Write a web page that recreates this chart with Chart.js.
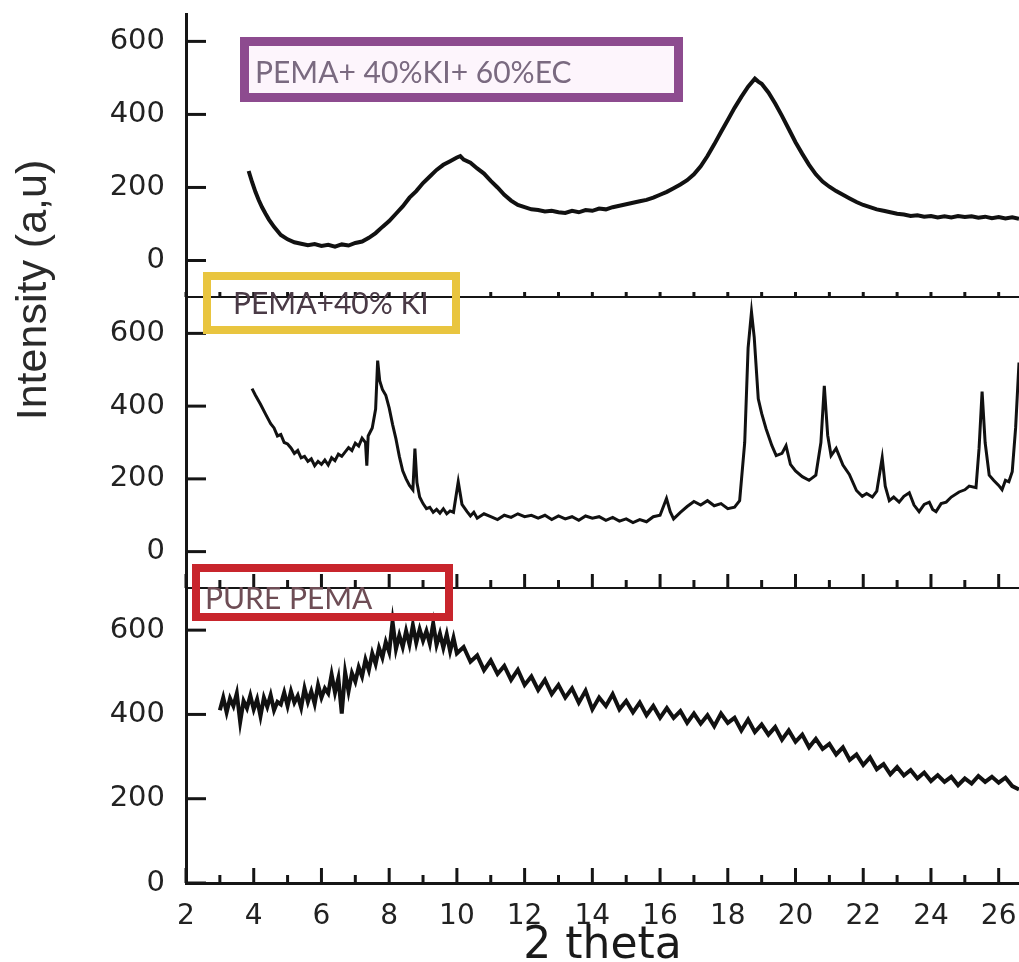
<!DOCTYPE html>
<html>
<head>
<meta charset="utf-8">
<script src="https://cdn.jsdelivr.net/npm/chart.js"></script>
<style>
  body { margin: 0; background: #fff; }
  canvas { display: block; }
</style>
</head>
<body>
<canvas id="xrdChart" width="1019" height="962"></canvas>
<script>
// tick values
const thetaTicks = [2, 3, 4, 5, 6, 7, 8, 9, 10, 11, 12, 13, 14, 15, 16, 17, 18, 19, 20, 21, 22, 23, 24, 25, 26];
const intensityTicks = [0, 100, 200, 300, 400, 500, 600];

// PEMA+ 40%KI+ 60%EC (top panel)
const ecTheta = [3.85, 3.95, 4.05, 4.15, 4.25, 4.35, 4.45, 4.6, 4.8, 5.0, 5.2, 5.4, 5.6, 5.8, 6.0, 6.2, 6.4, 6.6, 6.8, 7.0,
  7.2, 7.4, 7.6, 7.8, 8.0, 8.2, 8.4, 8.6, 8.8, 9.0, 9.2, 9.4, 9.6, 9.8, 10.0, 10.1, 10.2, 10.4, 10.6, 10.8,
  11.0, 11.2, 11.4, 11.6, 11.8, 12.0, 12.2, 12.4, 12.6, 12.8, 13.0, 13.2, 13.4, 13.6, 13.8, 14.0, 14.2, 14.4, 14.6, 14.8,
  15.0, 15.2, 15.4, 15.6, 15.8, 16.0, 16.2, 16.4, 16.6, 16.8, 17.0, 17.2, 17.4, 17.6, 17.8, 18.0, 18.2, 18.4, 18.6, 18.8,
  18.9, 19.0, 19.2, 19.4, 19.6, 19.8, 20.0, 20.2, 20.4, 20.6, 20.8, 21.0, 21.2, 21.4, 21.6, 21.8, 22.0, 22.2, 22.4, 22.6,
  22.8, 23.0, 23.2, 23.4, 23.6, 23.8, 24.0, 24.2, 24.4, 24.6, 24.8, 25.0, 25.2, 25.4, 25.6, 25.8, 26.0, 26.2, 26.4, 26.6];
const ecIntensity = [245, 215, 188, 165, 145, 128, 112, 92, 70, 58, 50, 46, 42, 45, 40, 43, 38, 44, 41, 48,
  52, 62, 75, 92, 108, 128, 148, 172, 190, 212, 230, 248, 262, 272, 282, 286, 276, 268, 252, 238,
  218, 200, 180, 164, 152, 146, 140, 138, 134, 136, 132, 130, 136, 132, 138, 136, 142, 140, 146, 150,
  154, 158, 162, 166, 172, 180, 188, 198, 208, 220, 236, 258, 286, 318, 352, 385, 418, 448, 476, 498,
  490, 484, 460, 430, 396, 360, 324, 292, 262, 236, 216, 202, 190, 180, 170, 160, 152, 146, 140, 136,
  132, 128, 126, 122, 124, 120, 122, 118, 121, 118, 122, 119, 121, 117, 120, 116, 119, 115, 118, 114];

// PEMA+40% KI (middle panel)
const kiTheta = [3.95, 4.05, 4.2, 4.35, 4.5, 4.6, 4.7, 4.8, 4.9, 5.0, 5.1, 5.2, 5.3, 5.4, 5.5, 5.6, 5.7, 5.8, 5.9, 6.0,
  6.1, 6.2, 6.3, 6.4, 6.5, 6.6, 6.8, 6.9, 7.0, 7.1, 7.2, 7.3, 7.34, 7.38, 7.5, 7.6, 7.66, 7.72, 7.8, 7.9,
  8.0, 8.1, 8.2, 8.3, 8.4, 8.5, 8.6, 8.7, 8.76, 8.82, 8.9, 9.0, 9.1, 9.2, 9.3, 9.4, 9.5, 9.6, 9.7, 9.8,
  9.9, 10.04, 10.15, 10.3, 10.4, 10.5, 10.6, 10.8, 11.0, 11.2, 11.4, 11.6, 11.8, 12.0, 12.2, 12.4, 12.6, 12.8, 13.0, 13.2,
  13.4, 13.6, 13.8, 14.0, 14.2, 14.4, 14.6, 14.8, 15.0, 15.2, 15.4, 15.6, 15.8, 16.0, 16.19, 16.3, 16.4, 16.6, 16.8, 17.0,
  17.2, 17.4, 17.6, 17.8, 18.0, 18.2, 18.35, 18.5, 18.6, 18.7, 18.78, 18.9, 19.0, 19.13, 19.3, 19.43, 19.6, 19.72, 19.85, 20.0,
  20.2, 20.4, 20.6, 20.75, 20.85, 20.95, 21.05, 21.2, 21.4, 21.59, 21.8, 21.97, 22.1, 22.27, 22.4, 22.56, 22.65, 22.77, 22.9, 23.06,
  23.2, 23.36, 23.5, 23.65, 23.8, 23.95, 24.05, 24.15, 24.3, 24.45, 24.6, 24.83, 25.0, 25.13, 25.33, 25.42, 25.51, 25.6, 25.72, 25.85,
  26.0, 26.1, 26.2, 26.3, 26.4, 26.5, 26.6];
const kiIntensity = [448, 430, 405, 378, 352, 340, 318, 322, 300, 296, 285, 270, 278, 258, 262, 248, 255, 236, 248, 240,
  252, 238, 258, 250, 268, 262, 286, 278, 298, 290, 312, 300, 236, 318, 340, 392, 525, 470, 446, 430,
  395, 350, 310, 262, 222, 200, 182, 170, 283, 190, 150, 132, 118, 122, 108, 116, 106, 118, 104, 112,
  108, 192, 130, 110, 98, 108, 92, 104, 96, 88, 100, 94, 104, 96, 100, 92, 100, 88, 98, 90,
  96, 86, 98, 92, 96, 86, 94, 84, 90, 80, 88, 82, 96, 100, 146, 110, 90, 108, 124, 138,
  128, 140, 126, 132, 118, 122, 140, 300, 560, 659, 590, 420, 380, 338, 292, 264, 270, 291, 240, 222,
  206, 196, 210, 300, 456, 320, 264, 284, 238, 212, 168, 152, 160, 150, 166, 258, 180, 140, 150, 136,
  152, 162, 128, 110, 130, 136, 116, 110, 132, 136, 150, 164, 170, 180, 176, 283, 440, 300, 210, 196,
  182, 170, 196, 192, 220, 340, 520];

// PURE PEMA (bottom panel)
const pureTheta = [3.0, 3.1, 3.2, 3.3, 3.4, 3.5, 3.6, 3.7, 3.8, 3.9, 4.0, 4.1, 4.2, 4.3, 4.4, 4.5, 4.6, 4.7, 4.8, 4.9,
  5.0, 5.1, 5.2, 5.3, 5.4, 5.5, 5.6, 5.7, 5.8, 5.9, 6.0, 6.1, 6.2, 6.3, 6.4, 6.5, 6.6, 6.7, 6.8, 6.9,
  7.0, 7.1, 7.2, 7.3, 7.4, 7.5, 7.6, 7.7, 7.8, 7.9, 8.0, 8.1, 8.2, 8.3, 8.4, 8.5, 8.6, 8.7, 8.8, 8.9,
  9.0, 9.1, 9.2, 9.3, 9.4, 9.5, 9.6, 9.7, 9.8, 9.9, 10.0, 10.2, 10.4, 10.6, 10.8, 11.0, 11.2, 11.4, 11.6, 11.8,
  12.0, 12.2, 12.4, 12.6, 12.8, 13.0, 13.2, 13.4, 13.6, 13.8, 14.0, 14.2, 14.4, 14.6, 14.8, 15.0, 15.2, 15.4, 15.6, 15.8,
  16.0, 16.2, 16.4, 16.6, 16.8, 17.0, 17.2, 17.4, 17.6, 17.8, 18.0, 18.2, 18.4, 18.6, 18.8, 19.0, 19.2, 19.4, 19.6, 19.8,
  20.0, 20.2, 20.4, 20.6, 20.8, 21.0, 21.2, 21.4, 21.6, 21.8, 22.0, 22.2, 22.4, 22.6, 22.8, 23.0, 23.2, 23.4, 23.6, 23.8,
  24.0, 24.2, 24.4, 24.6, 24.8, 25.0, 25.2, 25.4, 25.6, 25.8, 26.0, 26.2, 26.4, 26.6];
const pureIntensity = [410, 440, 405, 438, 420, 450, 382, 432, 415, 445, 412, 436, 396, 440, 418, 446, 410, 430, 424, 452,
  420, 455, 428, 444, 416, 462, 430, 455, 425, 470, 440, 462, 450, 495, 452, 486, 402, 500, 455, 498,
  478, 512, 490, 530, 505, 545, 520, 558, 535, 572, 548, 620, 555, 588, 560, 598, 566, 612, 570, 602,
  575, 598, 568, 616, 565, 592, 558, 590, 550, 582, 545, 560, 525, 540, 505, 528, 496, 515, 482, 506,
  470, 490, 458, 482, 448, 470, 440, 462, 428, 456, 412, 440, 420, 448, 412, 432, 405, 428, 398, 420,
  392, 415, 392, 408, 380, 402, 378, 398, 372, 402, 380, 392, 362, 388, 358, 376, 352, 370, 340, 362,
  335, 352, 322, 342, 318, 330, 305, 322, 292, 305, 280, 298, 270, 282, 258, 275, 255, 268, 248, 262,
  242, 256, 240, 252, 232, 248, 236, 254, 240, 252, 238, 250, 230, 222];

const toPoints = (xs, ys) => xs.map((x, i) => ({x: x, y: ys[i]}));

// inward ticks, panel separators, boxed labels and the y title
const panelDecor = {
  id: 'panelDecor',
  afterDraw(chart) {
    const c = chart.ctx;
    const area = chart.chartArea;
    const xs = chart.scales.x;
    c.save();
    c.strokeStyle = '#151515';
    c.lineCap = 'butt';

    ['yTop', 'yMid', 'yBot'].forEach(id => {
      const s = chart.scales[id];
      c.lineWidth = 3;
      s.ticks.forEach(t => {
        const y = s.getPixelForValue(t.value);
        const len = t.value % 200 === 0 ? 20 : 11;
        c.beginPath();
        c.moveTo(area.left, y);
        c.lineTo(area.left + len, y);
        c.stroke();
      });
    });

    const rows = [
      {y: chart.scales.yTop.bottom, major: 5, minor: 5, line: true},
      {y: chart.scales.yMid.bottom, major: 14, minor: 8, line: true},
      {y: xs.top, major: 15, minor: 8, line: false}
    ];
    rows.forEach(r => {
      if (r.line) {
        c.lineWidth = 2;
        c.beginPath();
        c.moveTo(area.left, r.y);
        c.lineTo(area.right, r.y);
        c.stroke();
      }
      c.lineWidth = 3;
      xs.ticks.forEach(t => {
        const x = xs.getPixelForValue(t.value);
        const len = t.value % 2 === 0 ? r.major : r.minor;
        c.beginPath();
        c.moveTo(x, r.y);
        c.lineTo(x, r.y - len);
        c.stroke();
      });
    });

    // sample boxes
    c.fillStyle = 'rgba(253, 244, 252, 0.9)';
    c.fillRect(249, 46, 425, 47);
    c.lineWidth = 9;
    c.strokeStyle = '#8d4b8f';
    c.strokeRect(244.5, 41.5, 434, 56);
    c.lineWidth = 8;
    c.strokeStyle = '#e9c53f';
    c.strokeRect(207, 276, 249, 54);
    c.strokeStyle = '#c8252c';
    c.strokeRect(196, 568, 253, 49);

    c.textAlign = 'left';
    c.textBaseline = 'alphabetic';
    c.font = '30px Lato';
    c.fillStyle = '#7a6a80';
    c.fillText('PEMA+ 40%KI+ 60%EC', 255, 83);
    c.fillStyle = '#4a3a46';
    c.fillText('PEMA+40% KI', 233, 314);
    c.fillStyle = '#6e4d55';
    c.fillText('PURE PEMA', 205, 609);

    // shared y title
    c.translate(34, 290);
    c.rotate(-Math.PI / 2);
    c.textAlign = 'center';
    c.textBaseline = 'middle';
    c.font = '43px "Liberation Sans"';
    c.fillStyle = '#2a2a2a';
    c.fillText('Intensity (a,u)', 0, 0);
    c.restore();
  }
};

const yPanel = (weight, min, max) => ({
  type: 'linear',
  position: 'left',
  stack: 'panels',
  stackWeight: weight,
  min: min,
  max: max,
  afterBuildTicks: s => { s.ticks = intensityTicks.map(v => ({value: v})); },
  afterFit: s => {
    s.width = 186;
    s.paddingTop = 0;
    s.paddingBottom = 0;
  },
  grid: {display: false, drawTicks: false},
  border: {display: true, color: '#151515', width: 3},
  ticks: {
    padding: 21,
    color: '#222',
    font: {family: 'DejaVu Sans', size: 29},
    callback: v => (v % 200 === 0 ? v : '')
  }
});

const ctx = document.getElementById('xrdChart').getContext('2d');

new Chart(ctx, {
  type: 'line',
  data: {
    datasets: [
      {label: 'PURE PEMA', data: toPoints(pureTheta, pureIntensity), yAxisID: 'yBot', borderWidth: 4},
      {label: 'PEMA+40% KI', data: toPoints(kiTheta, kiIntensity), yAxisID: 'yMid', borderWidth: 3},
      {label: 'PEMA+ 40%KI+ 60%EC', data: toPoints(ecTheta, ecIntensity), yAxisID: 'yTop', borderWidth: 4}
    ]
  },
  options: {
    responsive: false,
    animation: false,
    layout: {padding: {top: 14, left: 0, right: 0, bottom: 0}},
    elements: {
      point: {radius: 0},
      line: {borderColor: '#111', borderWidth: 3, tension: 0}
    },
    plugins: {
      legend: {display: false},
      tooltip: {enabled: false}
    },
    scales: {
      x: {
        type: 'linear',
        min: 2,
        max: 26.6,
        afterBuildTicks: s => { s.ticks = thetaTicks.map(v => ({value: v})); },
        afterFit: s => {
          s.height = 79;
          s.paddingLeft = 0;
          s.paddingRight = 0;
        },
        grid: {display: false, drawTicks: false},
        border: {display: true, color: '#151515', width: 3},
        ticks: {
          padding: 17,
          autoSkip: false,
          maxRotation: 0,
          color: '#222',
          font: {family: 'DejaVu Sans', size: 28},
          callback: v => (v % 2 === 0 ? v : '')
        },
        title: {
          display: true,
          text: '2 theta',
          color: '#1a1a1a',
          font: {family: 'DejaVu Sans', size: 44, lineHeight: 0.7},
          padding: 0
        }
      },
      yBot: yPanel(295, 0, 700),
      yMid: yPanel(291, -100, 700),
      yTop: yPanel(283, -100, 675)
    }
  },
  plugins: [panelDecor]
});
</script>
</body>
</html>
